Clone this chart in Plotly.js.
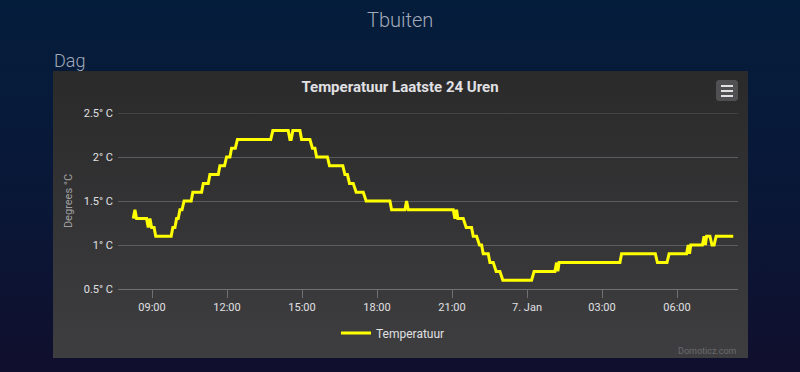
<!DOCTYPE html>
<html>
<head>
<meta charset="utf-8">
<script src="https://cdn.plot.ly/plotly-3.0.1.min.js"></script>
<style>
  html, body { margin:0; padding:0; width:800px; height:372px; overflow:hidden; }
  body { background: linear-gradient(180deg, #041d3b 0%, #0a1737 55%, #100f2d 100%); position:relative; }
  #panel { position:absolute; left:53px; top:71px; width:695px; height:287px;
           background: linear-gradient(180deg, #2a2a2b 0%, #3e3e40 100%); }
  #chart { position:absolute; left:0; top:0; width:800px; height:372px; }
</style>
</head>
<body>
<div id="panel"></div>
<div id="chart"></div>
<script>
// ---- data ----
const day1 = '2025-01-06 ';
const day2 = '2025-01-07 ';
const timesDay1 = ['08:15','08:19','08:23','08:47','08:51','08:55','08:59','09:05','09:09','09:46',
  '09:50','09:55','09:59','10:03','10:07','10:12','10:17','10:34','10:38','10:59',
  '11:03','11:15','11:19','11:39','11:43','11:54','11:59','12:07','12:11','12:20',
  '12:25','13:45','13:50','14:27','14:31','14:34','14:38','14:55','14:59','15:19',
  '15:25','15:31','15:35','16:01','16:06','16:38','16:43','16:49','16:54','17:03',
  '17:10','17:27','17:34','18:31','18:35','19:07','19:11','19:15','21:03','21:07',
  '21:11','21:14','21:27','21:34','21:47','21:51','21:59','22:06','22:11','22:15',
  '22:27','22:31','22:39','22:46','22:55','23:02'];
const tempsDay1 = [1.3,1.4,1.3,1.3,1.2,1.3,1.2,1.2,1.1,1.1,
  1.2,1.2,1.3,1.3,1.4,1.4,1.5,1.5,1.6,1.6,
  1.7,1.7,1.8,1.8,1.9,1.9,2.0,2.0,2.1,2.1,
  2.2,2.2,2.3,2.3,2.2,2.2,2.3,2.3,2.2,2.2,
  2.1,2.1,2.0,2.0,1.9,1.9,1.8,1.8,1.7,1.7,
  1.6,1.6,1.5,1.5,1.4,1.4,1.5,1.4,1.4,1.3,
  1.4,1.3,1.3,1.2,1.2,1.1,1.1,1.0,1.0,0.9,
  0.9,0.8,0.8,0.7,0.7,0.6];
const timesDay2 = ['00:11','00:17','01:07','01:11','01:14','01:17','03:43','03:47','05:08','05:13',
  '05:36','05:41','06:23','06:27','06:30','06:33','07:01','07:05','07:08','07:11',
  '07:19','07:24','07:29','07:34','08:15'];
const tempsDay2 = [0.6,0.7,0.7,0.8,0.7,0.8,0.8,0.9,0.9,0.8,
  0.8,0.9,0.9,1.0,0.9,1.0,1.0,1.1,1.0,1.1,
  1.1,1.0,1.0,1.1,1.1];

const xTickVals = ['2025-01-06 09:00','2025-01-06 12:00','2025-01-06 15:00','2025-01-06 18:00',
  '2025-01-06 21:00','2025-01-07 00:00','2025-01-07 03:00','2025-01-07 06:00'];
const xTickText = ['09:00','12:00','15:00','18:00','21:00','7. Jan','03:00','06:00'];
const yTickVals = [0.5,1,1.5,2,2.5];
const yTickText = ['0.5° C','1° C','1.5° C','2° C','2.5° C'];
const seriesName = 'Temperatuur';

// ---- build ----
const x = timesDay1.map(t => day1 + t).concat(timesDay2.map(t => day2 + t));
const y = tempsDay1.concat(tempsDay2);

// plot area in pixels
const L = 118, T = 113, W = 620, H = 176;
const px = v => (v - L) / W;
const py = v => (T + H - v) / H;

const FONT = 'Roboto, "Open Sans", sans-serif';

const trace = {
  type: 'scatter', mode: 'lines', name: seriesName,
  x: x, y: y,
  line: { color: '#ffff00', width: 3, shape: 'linear' },
  hoverinfo: 'skip'
};

const yMax = Math.max(...yTickVals);

const layout = {
  width: 800, height: 372,
  margin: { l: L, r: 800 - L - W, t: T, b: 372 - T - H, pad: 0 },
  paper_bgcolor: 'rgba(0,0,0,0)',
  plot_bgcolor: 'rgba(0,0,0,0)',
  font: { family: FONT, color: '#E0E0E3' },
  title: {
    text: 'Temperatuur Laatste 24 Uren',
    font: { family: FONT, size: 15, color: '#E0E0E3', weight: 'bold' },
    x: 0.5, xref: 'container', xanchor: 'center',
    y: 1 - 87 / 372, yref: 'container', yanchor: 'middle'
  },
  xaxis: {
    type: 'date',
    range: ['2025-01-06 07:38:24', '2025-01-07 08:26:24'],
    tickvals: xTickVals, ticktext: xTickText,
    tickfont: { family: FONT, size: 11, color: '#E0E0E3' },
    ticks: 'outside', ticklen: 8, tickcolor: '#707073', tickwidth: 1,
    showgrid: false, zeroline: false,
    showline: true, linecolor: '#707073', linewidth: 1,
    fixedrange: true
  },
  yaxis: {
    range: [0.5, 2.5],
    tickvals: yTickVals, ticktext: yTickText,
    tickfont: { family: FONT, size: 11, color: '#E0E0E3' },
    showgrid: true, gridcolor: '#5c5c5f', gridwidth: 1,
    zeroline: false, showline: false, ticks: '',
    ticklabelstandoff: 4,
    title: { text: 'Degrees °C', font: { family: FONT, size: 11, color: '#A0A0A3' }, standoff: 8 },
    fixedrange: true
  },
  showlegend: true,
  legend: {
    orientation: 'h',
    x: px(393), xref: 'paper', xanchor: 'center',
    y: py(333), yanchor: 'middle',
    font: { family: FONT, size: 12, color: '#E0E0E3' },
    bgcolor: 'rgba(0,0,0,0)',
    itemwidth: 30
  },
  annotations: [
    { text: 'Tbuiten', xref: 'paper', yref: 'paper', x: px(400), y: py(20), xanchor: 'center', yanchor: 'middle',
      showarrow: false, font: { family: FONT, size: 20, color: '#a3aaba', weight: 300 } },
    { text: 'Dag', xref: 'paper', yref: 'paper', x: px(52), y: py(60), xanchor: 'left', yanchor: 'middle',
      showarrow: false, font: { family: FONT, size: 18, color: '#a3aaba', weight: 300 } },
    { text: 'Domoticz.com', xref: 'paper', yref: 'paper', x: px(739), y: py(351), xanchor: 'right', yanchor: 'middle',
      showarrow: false, font: { family: FONT, size: 9, color: '#6a6a6d' } }
  ],
  shapes: [
    // top gridline (edge gridline is not drawn by Plotly)
    { type: 'line', xref: 'paper', yref: 'y', layer: 'below',
      x0: 0, x1: 1, y0: yMax, y1: yMax, line: { color: '#5c5c5f', width: 1 } },
    { type: 'path', xref: 'paper', yref: 'paper', layer: 'above',
      path: (() => {
        const x0 = 716, x1 = 738, y0 = 80, y1 = 101, r = 2;
        const X = v => px(v), Y = v => py(v);
        return `M${X(x0 + r)},${Y(y0)} L${X(x1 - r)},${Y(y0)} L${X(x1)},${Y(y0 + r)} L${X(x1)},${Y(y1 - r)} L${X(x1 - r)},${Y(y1)} L${X(x0 + r)},${Y(y1)} L${X(x0)},${Y(y1 - r)} L${X(x0)},${Y(y0 + r)} Z`;
      })(),
      fillcolor: '#505053', line: { width: 0 } },
    ...[86, 91, 96].map(v => ({ type: 'line', xref: 'paper', yref: 'paper', layer: 'above',
      x0: px(721), x1: px(733), y0: py(v), y1: py(v), line: { color: '#E0E0E3', width: 2 } }))
  ]
};

Plotly.newPlot('chart', [trace], layout, { displayModeBar: false, staticPlot: true, responsive: false });
</script>
</body>
</html>
